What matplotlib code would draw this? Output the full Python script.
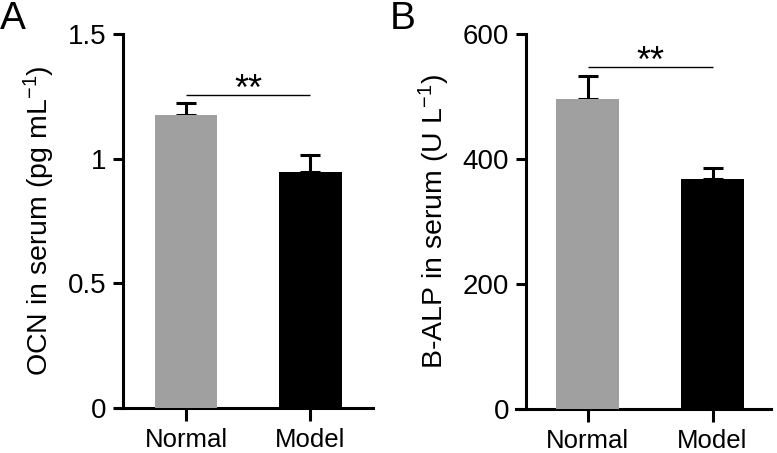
import matplotlib
matplotlib.use("Agg")
import matplotlib.pyplot as plt
import numpy as np

plt.rcParams['font.family'] = ['Liberation Sans', 'DejaVu Sans']
plt.rcParams['mathtext.default'] = 'regular'

categories = ["Normal", "Model"]
ocn_mean = [1.175, 0.948]
ocn_err = [0.048, 0.068]
alp_mean = [496, 368]
alp_err = [37, 17]
colors = ["#a0a0a0", "#000000"]

W, H = 777, 453
fig = plt.figure(figsize=(W / 100, H / 100), dpi=100)

def make_axes(left_px, right_px, yspine_px, bottom_px, top_px):
    ax = fig.add_axes([left_px / W, 1 - bottom_px / H,
                       (right_px - left_px) / W, (bottom_px - top_px) / H])
    ax.spines['left'].set_position(('axes', (yspine_px - left_px) / (right_px - left_px)))
    return ax

def draw(ax, means, errs, ylim, yticks, yticklabels, ylabel, xlim, sig_y, letter, letter_x):
    x = np.arange(len(categories))
    ax.bar(x, means, width=0.5, color=colors, zorder=3)
    ax.errorbar(x, means, yerr=[np.zeros(len(errs)), errs], fmt='none',
                ecolor='black', elinewidth=2.2, capsize=7.2, capthick=2.2, zorder=2)
    ax.set_xlim(*xlim)
    ax.set_ylim(*ylim)
    ax.set_yticks(yticks)
    ax.set_yticklabels(yticklabels)
    ax.set_xticks(x)
    ax.set_xticklabels(categories)
    for s in ['top', 'right']:
        ax.spines[s].set_visible(False)
    for s in ['left', 'bottom']:
        ax.spines[s].set_linewidth(2.2)
    ax.tick_params(axis='y', length=7, width=2.2, pad=5, labelsize=20)
    ax.tick_params(axis='x', length=9, width=2.2, pad=5.5, labelsize=18.5)
    ax.set_ylabel(ylabel, fontsize=20.5, labelpad=8)
    ax.plot([0, 1], [sig_y, sig_y], color='black', lw=1.0, solid_capstyle='butt', clip_on=False)
    ax.annotate("**", xy=(0.5, sig_y), xytext=(0, -3.5), textcoords='offset points',
                ha='center', va='baseline', fontsize=26)
    fig.text(letter_x / W, 1 - 1 / H, letter, fontsize=28, ha='left', va='top')

axA = make_axes(115, 373, 123, 408, 34)
draw(axA, ocn_mean, ocn_err, (0, 1.5), [0, 0.5, 1.0, 1.5], ["0", "0.5", "1", "1.5"],
     "OCN in serum (pg mL$^{-1}$)", (-0.570, 1.502), 1.256, "A", 0)

axB = make_axes(516, 771, 526, 409, 34)
draw(axB, alp_mean, alp_err, (0, 600), [0, 200, 400, 600], ["0", "200", "400", "600"],
     "B-ALP in serum (U L$^{-1}$)", (-0.572, 1.468), 547, "B", 390)

fig.savefig("out.png", dpi=100)
